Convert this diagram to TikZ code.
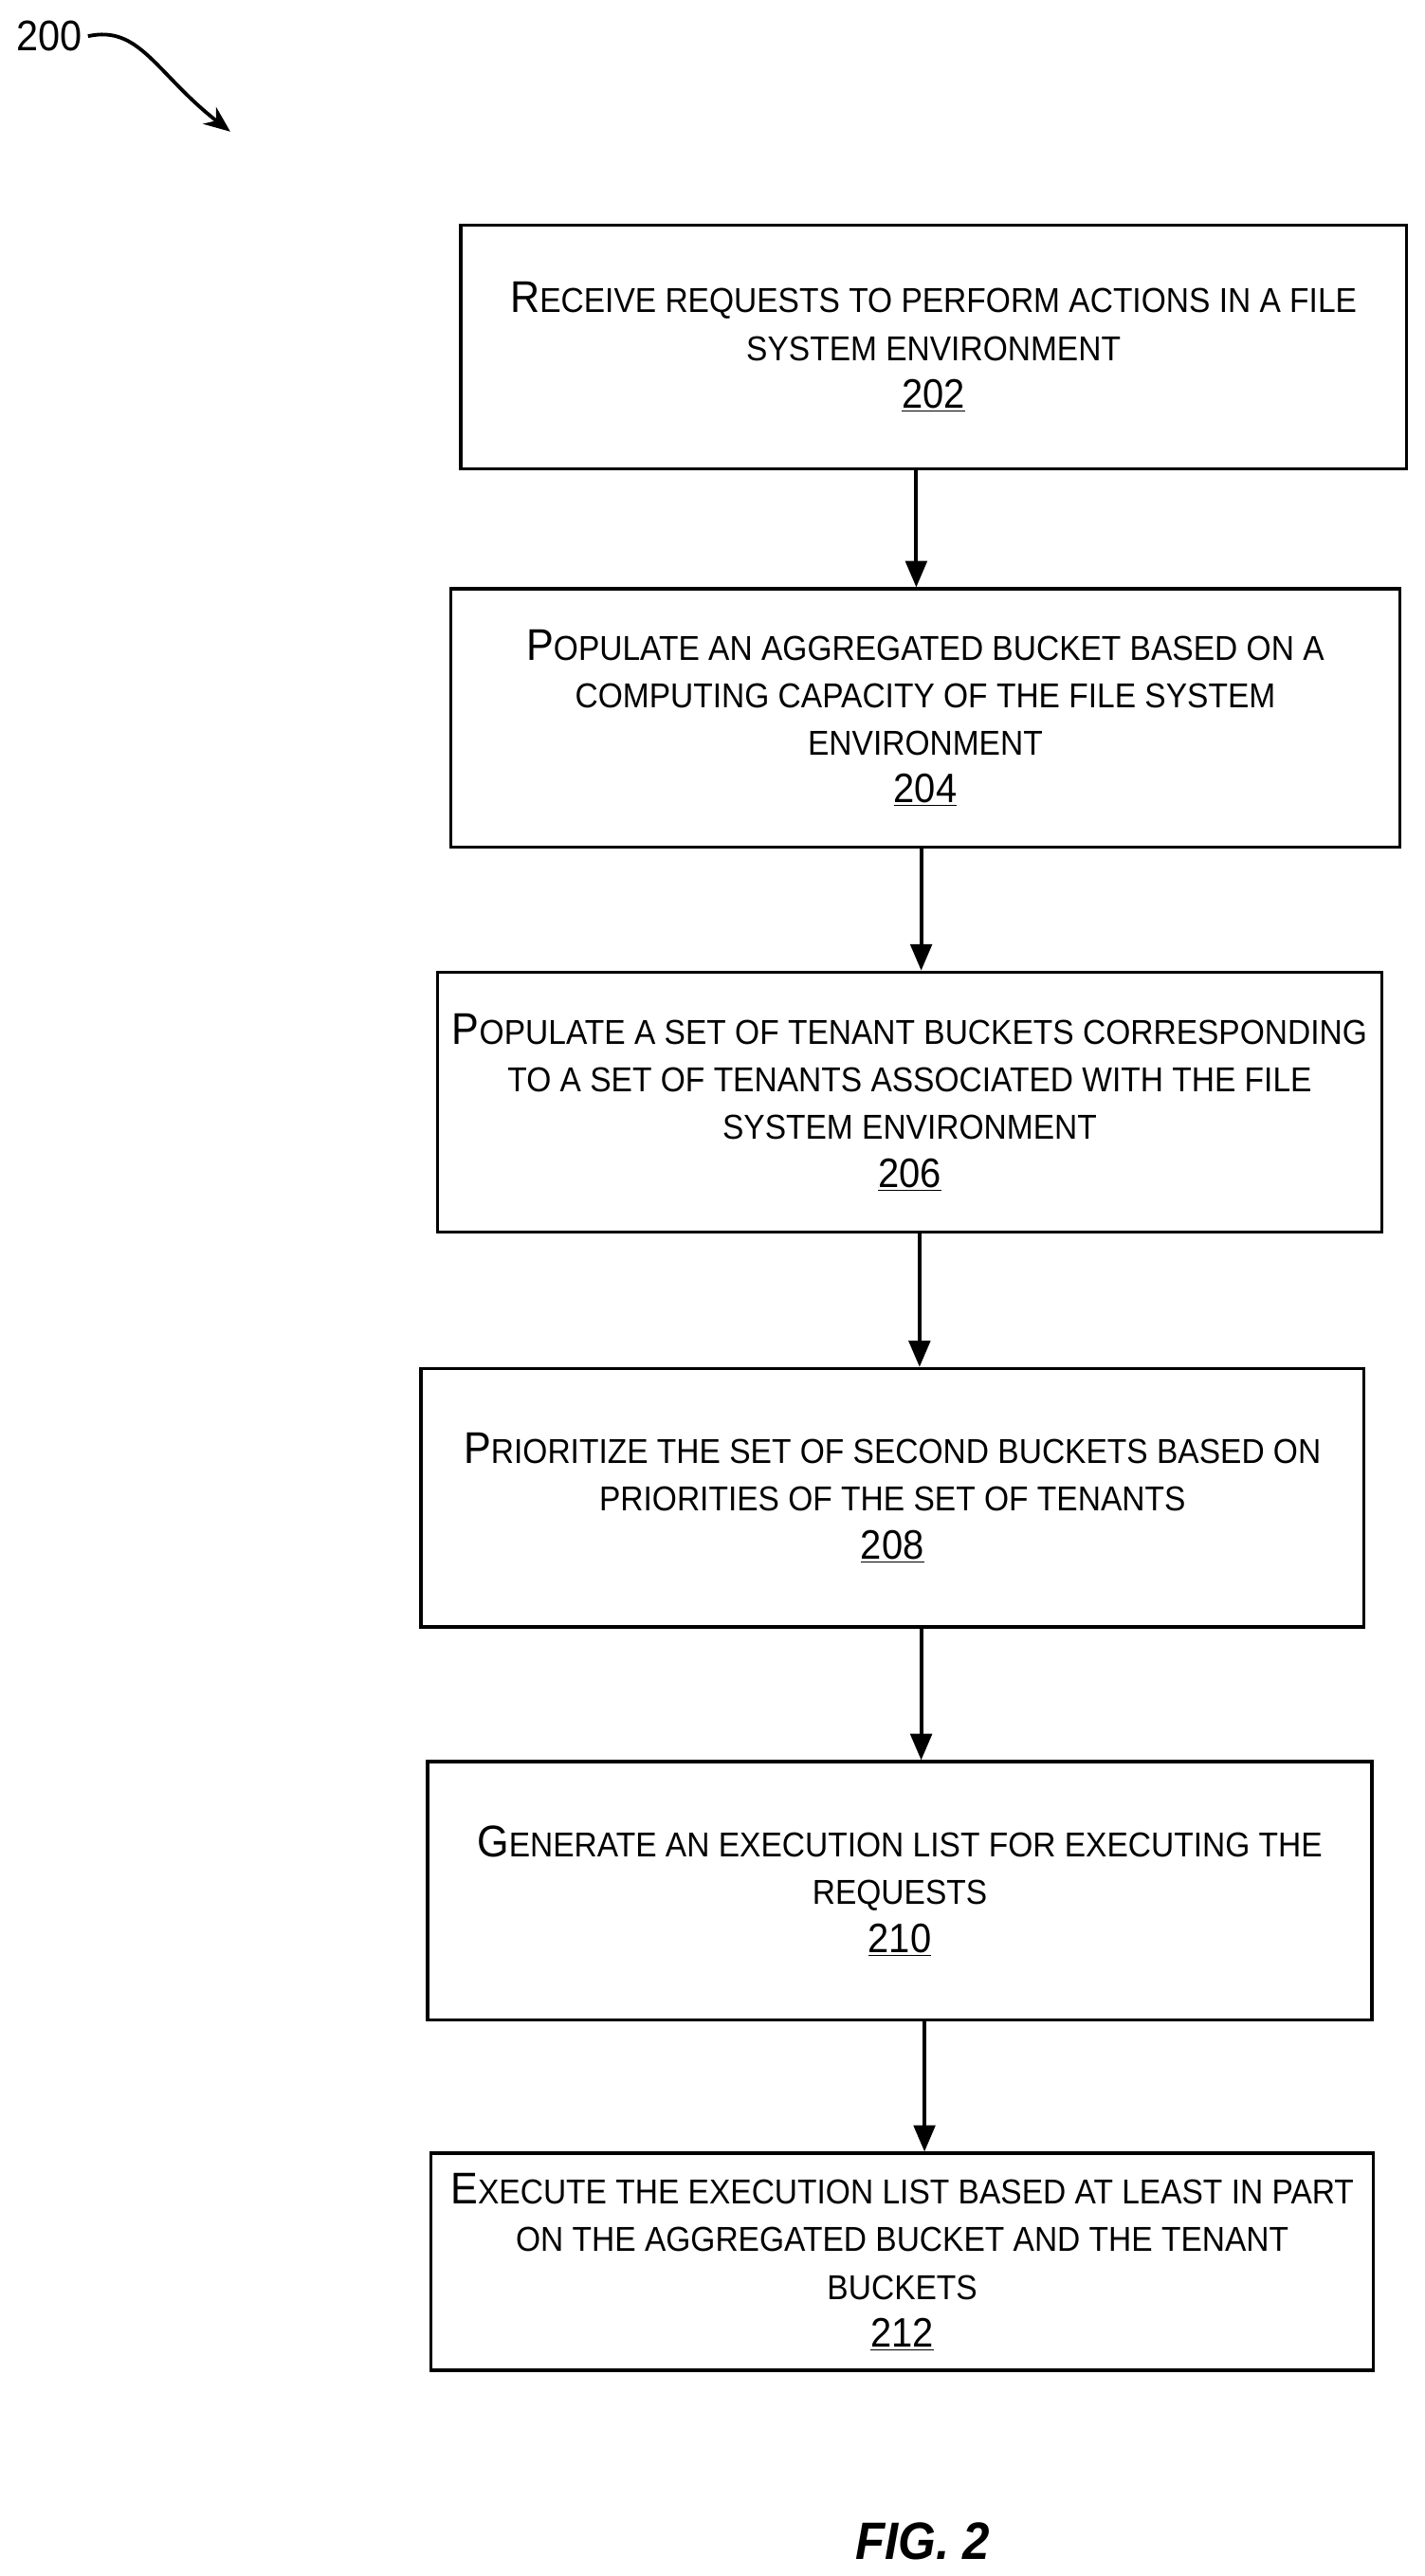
\documentclass[tikz,border=0pt]{standalone}
\usepackage{fontspec}
\setmainfont{Liberation Sans}[FakeStretch=0.92]
\usetikzlibrary{arrows.meta}
\newcommand\bc[1]{{\fontsize{27}{29}\selectfont #1}}
\newcommand\num[1]{{\fontsize{25}{29}\selectfont\underline{#1}}}
\begin{document}
\begin{tikzpicture}[x=1pt,y=-1pt,
 box/.style={draw,line width=2pt,align=center,inner sep=4pt,font=\fontsize{21}{29}\selectfont},
 arr/.style={-{Triangle[length=16pt,width=13pt]},line width=2.2pt}]
\useasboundingbox (0,0) rectangle (866,1566);
\node[box,minimum width=575pt,minimum height=148pt] (b202) at (567.5,211) {\bc{R}ECEIVE REQUESTS TO PERFORM ACTIONS IN A FILE\\SYSTEM ENVIRONMENT\\\num{202}};
\node[box,minimum width=577pt,minimum height=157pt] (b204) at (562.5,436.5) {\bc{P}OPULATE AN AGGREGATED BUCKET BASED ON A\\COMPUTING CAPACITY OF THE FILE SYSTEM\\ENVIRONMENT\\\num{204}};
\node[box,minimum width=574pt,minimum height=158pt] (b206) at (553,670) {\bc{P}OPULATE A SET OF TENANT BUCKETS CORRESPONDING\\TO A SET OF TENANTS ASSOCIATED WITH THE FILE\\SYSTEM ENVIRONMENT\\\num{206}};
\node[box,minimum width=573pt,minimum height=157pt] (b208) at (542.5,910.5) {\bc{P}RIORITIZE THE SET OF SECOND BUCKETS BASED ON\\PRIORITIES OF THE SET OF TENANTS\\\num{208}};
\node[box,minimum width=574pt,minimum height=157pt] (b210) at (547,1149.5) {\bc{G}ENERATE AN EXECUTION LIST FOR EXECUTING THE\\REQUESTS\\\num{210}};
\node[box,minimum width=573pt,minimum height=132pt] (b212) at (548.5,1375) {\bc{E}XECUTE THE EXECUTION LIST BASED AT LEAST IN PART\\ON THE AGGREGATED BUCKET AND THE TENANT\\BUCKETS\\\num{212}};
\draw[arr] (b202.south -| 557,0) -- (b204.north -| 557,0);
\draw[arr] (b204.south -| 560,0) -- (b206.north -| 560,0);
\draw[arr] (b206.south -| 559,0) -- (b208.north -| 559,0);
\draw[arr] (b208.south -| 560,0) -- (b210.north -| 560,0);
\draw[arr] (b210.south -| 562,0) -- (b212.north -| 562,0);
\node[font=\fontsize{26}{28}\selectfont] (lbl) at (30,22) {200};
\coordinate (tip) at (140,80);
\draw[line width=2.2pt,-{Stealth[length=16pt,width=13pt]}] (lbl.east) .. controls (85,15) and (95,45) .. (tip);
\node[font=\fontsize{32}{34}\selectfont\bfseries\itshape] (fig) at (561,1545) {FIG. 2};
\end{tikzpicture}
\end{document}
